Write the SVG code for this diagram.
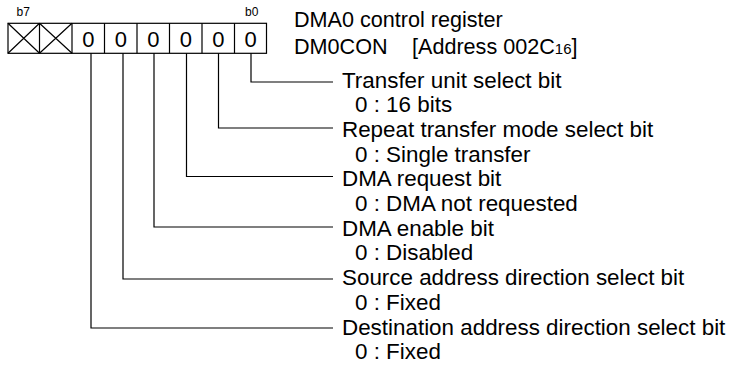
<svg xmlns="http://www.w3.org/2000/svg" width="731" height="365" viewBox="0 0 731 365">
<style>
text{font-family:"Liberation Sans",Arial,sans-serif;fill:#000}
.t{font-size:22.4px}
.h{font-size:21.6px}
.b{font-size:12px}
.z{font-size:22px;text-anchor:middle}
.ln{fill:none;stroke:#000;stroke-width:1.2}
.bx{fill:#fff;stroke:#000;stroke-width:1.2}
</style>
<rect width="731" height="365" fill="#fff"/>
<g id="register">
<text class="b" x="16.5" y="16">b7</text>
<text class="b" x="245" y="16">b0</text>
<rect class="bx" x="8" y="23.3" width="258.5" height="30"/>
<path class="ln" d="M39.5 23.3V53.3M72 23.3V53.3M104.5 23.3V53.3M137 23.3V53.3M169.5 23.3V53.3M202 23.3V53.3M234.5 23.3V53.3"/>
<path class="ln" d="M8 23.3L39.5 53.3M39.5 23.3L8 53.3M39.5 23.3L72 53.3M72 23.3L39.5 53.3"/>
<text class="z" x="88.3" y="47">0</text>
<text class="z" x="120.8" y="47">0</text>
<text class="z" x="153.3" y="47">0</text>
<text class="z" x="185.8" y="47">0</text>
<text class="z" x="218.3" y="47">0</text>
<text class="z" x="250.5" y="47">0</text>
</g>
<g id="title">
<text class="h" x="294" y="27">DMA0 control register</text>
<text class="h" x="294" y="54">DM0CON</text>
<text class="h" x="412" y="54">[Address 002C<tspan font-size="15">16</tspan>]</text>
</g>
<g id="connectors">
<path class="ln" d="M251 53.3V82H333"/>
<path class="ln" d="M218.5 53.3V128H333"/>
<path class="ln" d="M186.5 53.3V176.5H333"/>
<path class="ln" d="M154 53.3V227H333"/>
<path class="ln" d="M123 53.3V279H333"/>
<path class="ln" d="M91 53.3V328H333"/>
</g>
<g id="bit0"><text class="t" x="342" y="87.5">Transfer unit select bit</text><text class="t" x="355" y="112">0 : 16 bits</text></g>
<g id="bit1"><text class="t" x="342" y="137">Repeat transfer mode select bit</text><text class="t" x="355" y="161.5">0 : Single transfer</text></g>
<g id="bit2"><text class="t" x="342" y="186.3">DMA request bit</text><text class="t" x="355" y="211">0 : DMA not requested</text></g>
<g id="bit3"><text class="t" x="342" y="235.7">DMA enable bit</text><text class="t" x="355" y="260.4">0 : Disabled</text></g>
<g id="bit4"><text class="t" x="342" y="285.1">Source address direction select bit</text><text class="t" x="355" y="309.8">0 : Fixed</text></g>
<g id="bit5"><text class="t" x="342" y="334.5">Destination address direction select bit</text><text class="t" x="355" y="359.2">0 : Fixed</text></g>
</svg>
